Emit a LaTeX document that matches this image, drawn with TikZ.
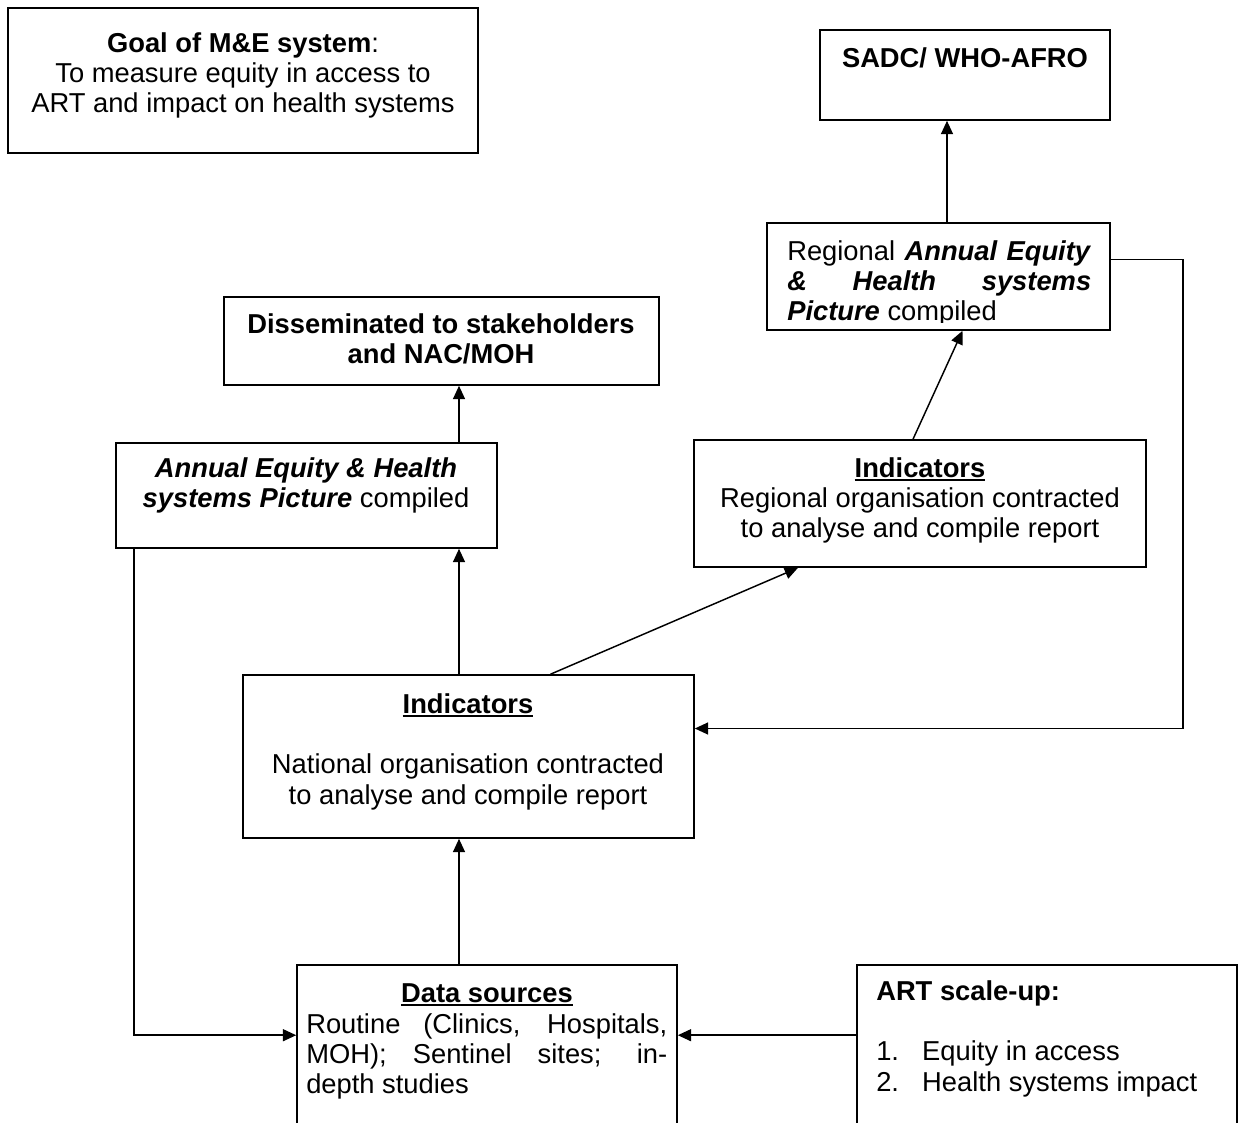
\documentclass[tikz,border=0pt]{standalone}
\usepackage{fontspec}
\setmainfont{Liberation Sans}
\usetikzlibrary{arrows.meta,calc,fit}
\newcommand{\ulbf}[1]{\setbox0=\hbox{\textbf{#1}}\leavevmode\rlap{\rule[-3pt]{\wd0}{1.3pt}}\box0}
\begin{document}
\begin{tikzpicture}[x=0.75pt,y=-0.75pt,
  box/.style={draw,line width=1.2pt,inner sep=0pt},
  txt/.style={inner sep=0pt,font=\fontsize{20.5pt}{22.8pt}\selectfont,align=center},
  jtxt/.style={inner sep=0pt,font=\fontsize{20.5pt}{22.8pt}\selectfont,align=justify,anchor=north west},
  arr/.style={line width=1.1pt,-{Triangle[length=10pt,width=9pt]}}]
\useasboundingbox (0,0) rectangle (1243,1122);
\fill[white] (0,0) rectangle (1243,1122);
\clip (0,0) rectangle (1243,1122);
% boxes
\node[box,fit={(8,8) (478,153)}] (goal) {};
\node[box,fit={(820,30) (1110,120)}] (sadc) {};
\node[box,fit={(767,223) (1110,330)}] (reg) {};
\node[box,fit={(224,297) (659,385)}] (dissem) {};
\node[box,fit={(116,443) (497,548)}] (annual) {};
\node[box,fit={(694,440) (1146,567)}] (regind) {};
\node[box,fit={(243,675) (694,838)}] (national) {};
\node[box,fit={(297,965) (677,1160)}] (data) {};
\node[box,fit={(857,965) (1237,1160)}] (art) {};
% texts
\node[txt,anchor=north] (goalt) at (243,30.5) {\strut\textbf{Goal of M\&E system}:\\To measure equity in access to\\ART and impact on health systems};
\node[txt,anchor=north] (sadct) at (965,45.5) {\strut\textbf{SADC/ WHO-AFRO}};
\begin{scope}
\clip (767,223) rectangle (1110,322);
\node[jtxt,text width=228pt] (regt) at (787,238.5) {\strut Regional \textbf{\textit{Annual Equity}}\linebreak \textbf{\textit{\& Health systems}}\linebreak \textbf{\textit{Picture}} compiled};
\end{scope}
\node[txt,anchor=north] (dissemt) at (441,311.5) {\strut\textbf{Disseminated to stakeholders}\\\textbf{and NAC/MOH}};
\node[txt,anchor=north] (annualt) at (306,455.5) {\strut\textbf{\textit{Annual Equity \& Health}}\\\textbf{\textit{systems Picture}} compiled};
\node[txt,anchor=north] (regindt) at (920,455.5) {\strut\ulbf{Indicators}\\Regional organisation contracted\\to analyse and compile report};
\node[txt,anchor=north] (nationalt) at (468,691.5) {\strut\ulbf{Indicators}\\\strut\\National organisation contracted\\to analyse and compile report};
\node[txt,anchor=north] (datat) at (487,980.5) {\strut\ulbf{Data sources}};
\node[jtxt,text width=270.75pt] (datab) at (306,1011.5) {\strut Routine (Clinics, Hospitals,\linebreak MOH); Sentinel sites; in-\linebreak depth studies};
\node[txt,anchor=north west,align=left] (artt) at (876,978.5) {\strut\textbf{ART scale-up:}\\\strut\\\makebox[34.5pt][l]{1.}Equity in access\\\makebox[34.5pt][l]{2.}Health systems impact};
% helper coordinates
\coordinate (cx) at (459,0);
\coordinate (sx) at (947,0);
\coordinate (lx) at (134,0);
\coordinate (rx) at (1183,0);
\coordinate (regE) at ($(reg.east)+(0,-17)$);
\coordinate (natE) at ($(national.east)+(0,-28)$);
\coordinate (dW) at ($(data.north west)+(0,71)$);
\coordinate (dE) at ($(data.north east)+(0,71)$);
% connectors
\draw[arr] (reg.north -| sx) -- (sadc.south -| sx);
\draw[arr] ($(regind.north)+(-7,0)$) -- ($(reg.south)+(24,0)$);
\draw[arr] (annual.north -| cx) -- (dissem.south -| cx);
\draw[arr] (national.north -| cx) -- (annual.south -| cx);
\draw[arr] ($(national.north)+(82,0)$) -- ($(regind.south)+(-122,0)$);
\draw[arr] (regE) -| (rx |- natE) -- (natE);
\draw[arr] (annual.south -| lx) |- (dW);
\draw[arr] (data.north -| cx) -- (national.south -| cx);
\draw[arr] (art.west |- dE) -- (dE);
\end{tikzpicture}
\end{document}
